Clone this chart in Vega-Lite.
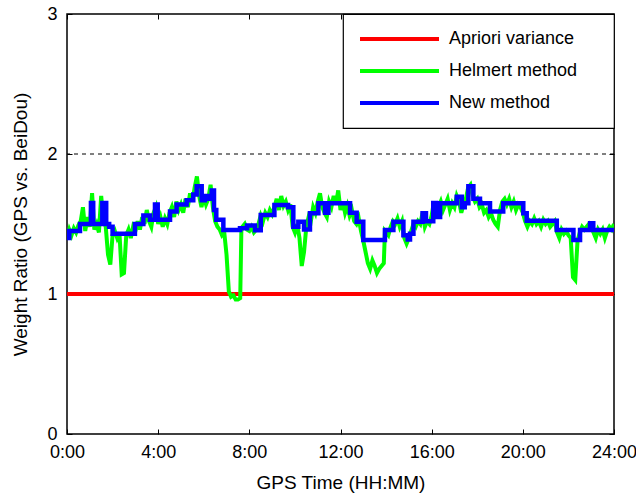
{
  "$schema": "https://vega.github.io/schema/vega-lite/v6.json",
  "width": 547,
  "height": 420,
  "autosize": "none",
  "padding": {"left": 67, "top": 14, "right": 22, "bottom": 64},
  "background": "white",
  "config": {
    "font": "Liberation Sans",
    "view": {"stroke": "black", "strokeWidth": 1.5},
    "axis": {
      "domain": false,
      "grid": false,
      "ticks": true,
      "tickColor": "black",
      "tickSize": -5,
      "labelFont": "Liberation Sans",
      "labelFontSize": 18,
      "labelColor": "black",
      "titleFont": "Liberation Sans",
      "titleFontSize": 19,
      "titleFontWeight": "normal",
      "titleColor": "black"
    },
    "legend": {
      "orient": "top-right",
      "offset": 0,
      "strokeColor": "black",
      "strokeWidth": 1.2,
      "fillColor": "white",
      "padding": 15,
      "symbolType": "stroke",
      "symbolSize": 6241,
      "symbolStrokeWidth": 4,
      "symbolOffset": 0,
      "clipHeight": 20,
      "labelFont": "Liberation Sans",
      "labelFontSize": 18,
      "labelColor": "black",
      "labelOffset": 8,
      "rowPadding": 12,
      "titleOrient": "right",
      "titlePadding": 22,
      "titleFontSize": 10
    }
  },
  "resolve": {"axis": {"x": "independent", "y": "independent"}},
  "datasets": {
    "blue": [
      {"h": 0.0, "v": 1.40}, {"h": 0.1, "v": 1.45}, {"h": 0.57, "v": 1.50}, {"h": 1.05, "v": 1.65}, {"h": 1.15, "v": 1.50},
      {"h": 1.55, "v": 1.65}, {"h": 1.72, "v": 1.50}, {"h": 1.85, "v": 1.48}, {"h": 2.0, "v": 1.43}, {"h": 2.98, "v": 1.50},
      {"h": 3.35, "v": 1.56}, {"h": 3.64, "v": 1.53}, {"h": 3.86, "v": 1.64}, {"h": 3.98, "v": 1.53}, {"h": 4.52, "v": 1.59},
      {"h": 4.81, "v": 1.64}, {"h": 5.25, "v": 1.67}, {"h": 5.54, "v": 1.71}, {"h": 5.69, "v": 1.77}, {"h": 5.91, "v": 1.67},
      {"h": 6.05, "v": 1.70}, {"h": 6.2, "v": 1.68}, {"h": 6.35, "v": 1.74}, {"h": 6.45, "v": 1.60}, {"h": 6.55, "v": 1.53},
      {"h": 6.86, "v": 1.457}, {"h": 7.59, "v": 1.47}, {"h": 7.9, "v": 1.49}, {"h": 8.25, "v": 1.455}, {"h": 8.5, "v": 1.564},
      {"h": 9.1, "v": 1.636}, {"h": 9.7, "v": 1.62}, {"h": 9.93, "v": 1.48}, {"h": 10.15, "v": 1.516}, {"h": 10.4, "v": 1.46},
      {"h": 10.66, "v": 1.576}, {"h": 11.03, "v": 1.648}, {"h": 11.32, "v": 1.58}, {"h": 11.47, "v": 1.648}, {"h": 12.42, "v": 1.58},
      {"h": 12.71, "v": 1.516}, {"h": 13.0, "v": 1.386}, {"h": 13.95, "v": 1.457}, {"h": 14.32, "v": 1.516}, {"h": 14.76, "v": 1.42},
      {"h": 14.95, "v": 1.39}, {"h": 15.05, "v": 1.43}, {"h": 15.2, "v": 1.516}, {"h": 15.6, "v": 1.576}, {"h": 15.75, "v": 1.52},
      {"h": 16.07, "v": 1.65}, {"h": 16.2, "v": 1.55}, {"h": 16.37, "v": 1.648}, {"h": 17.1, "v": 1.695}, {"h": 17.32, "v": 1.62},
      {"h": 17.45, "v": 1.648}, {"h": 17.61, "v": 1.77}, {"h": 17.83, "v": 1.68}, {"h": 18.12, "v": 1.648}, {"h": 18.56, "v": 1.59},
      {"h": 19.14, "v": 1.648}, {"h": 20.02, "v": 1.576}, {"h": 20.17, "v": 1.524}, {"h": 21.49, "v": 1.457}, {"h": 22.22, "v": 1.386},
      {"h": 22.51, "v": 1.457}, {"h": 22.95, "v": 1.505}, {"h": 23.09, "v": 1.457}, {"h": 24.0, "v": 1.457}
    ],
    "green": [
      {"h": 0.0, "v": 1.40}, {"h": 0.1, "v": 1.46}, {"h": 0.2, "v": 1.42}, {"h": 0.3, "v": 1.47}, {"h": 0.4, "v": 1.44},
      {"h": 0.5, "v": 1.49}, {"h": 0.6, "v": 1.52}, {"h": 0.7, "v": 1.62}, {"h": 0.8, "v": 1.45}, {"h": 0.9, "v": 1.55},
      {"h": 1.0, "v": 1.48}, {"h": 1.1, "v": 1.72}, {"h": 1.2, "v": 1.46}, {"h": 1.3, "v": 1.50}, {"h": 1.4, "v": 1.44},
      {"h": 1.5, "v": 1.70}, {"h": 1.6, "v": 1.52}, {"h": 1.7, "v": 1.48}, {"h": 1.8, "v": 1.28}, {"h": 1.9, "v": 1.21},
      {"h": 2.0, "v": 1.42}, {"h": 2.1, "v": 1.45}, {"h": 2.2, "v": 1.40}, {"h": 2.3, "v": 1.44}, {"h": 2.4, "v": 1.14},
      {"h": 2.5, "v": 1.15}, {"h": 2.6, "v": 1.42}, {"h": 2.7, "v": 1.46}, {"h": 2.8, "v": 1.40}, {"h": 2.9, "v": 1.48},
      {"h": 3.0, "v": 1.45}, {"h": 3.1, "v": 1.52}, {"h": 3.2, "v": 1.46}, {"h": 3.3, "v": 1.55}, {"h": 3.4, "v": 1.50},
      {"h": 3.5, "v": 1.60}, {"h": 3.6, "v": 1.52}, {"h": 3.7, "v": 1.48}, {"h": 3.8, "v": 1.58}, {"h": 3.9, "v": 1.62},
      {"h": 4.0, "v": 1.50}, {"h": 4.1, "v": 1.55}, {"h": 4.2, "v": 1.48}, {"h": 4.3, "v": 1.54}, {"h": 4.4, "v": 1.50},
      {"h": 4.5, "v": 1.58}, {"h": 4.6, "v": 1.62}, {"h": 4.7, "v": 1.55}, {"h": 4.8, "v": 1.66}, {"h": 4.9, "v": 1.60},
      {"h": 5.0, "v": 1.64}, {"h": 5.1, "v": 1.58}, {"h": 5.2, "v": 1.68}, {"h": 5.3, "v": 1.62}, {"h": 5.4, "v": 1.72},
      {"h": 5.5, "v": 1.66}, {"h": 5.6, "v": 1.76}, {"h": 5.7, "v": 1.84}, {"h": 5.8, "v": 1.70}, {"h": 5.9, "v": 1.62},
      {"h": 6.0, "v": 1.70}, {"h": 6.1, "v": 1.64}, {"h": 6.2, "v": 1.68}, {"h": 6.3, "v": 1.78}, {"h": 6.4, "v": 1.62},
      {"h": 6.5, "v": 1.52}, {"h": 6.6, "v": 1.48}, {"h": 6.7, "v": 1.46}, {"h": 6.8, "v": 1.42}, {"h": 6.9, "v": 1.44},
      {"h": 7.0, "v": 1.28}, {"h": 7.1, "v": 1.02}, {"h": 7.2, "v": 0.98}, {"h": 7.3, "v": 0.99}, {"h": 7.4, "v": 0.96},
      {"h": 7.5, "v": 0.96}, {"h": 7.6, "v": 0.97}, {"h": 7.65, "v": 1.45}, {"h": 7.7, "v": 1.48}, {"h": 7.8, "v": 1.50},
      {"h": 7.9, "v": 1.46}, {"h": 8.0, "v": 1.45}, {"h": 8.1, "v": 1.48}, {"h": 8.2, "v": 1.44}, {"h": 8.3, "v": 1.46},
      {"h": 8.4, "v": 1.50}, {"h": 8.5, "v": 1.56}, {"h": 8.6, "v": 1.52}, {"h": 8.7, "v": 1.58}, {"h": 8.8, "v": 1.55},
      {"h": 8.9, "v": 1.60}, {"h": 9.0, "v": 1.57}, {"h": 9.1, "v": 1.62}, {"h": 9.2, "v": 1.68}, {"h": 9.3, "v": 1.60},
      {"h": 9.4, "v": 1.70}, {"h": 9.5, "v": 1.63}, {"h": 9.6, "v": 1.66}, {"h": 9.7, "v": 1.60}, {"h": 9.8, "v": 1.64},
      {"h": 9.9, "v": 1.48}, {"h": 10.0, "v": 1.44}, {"h": 10.1, "v": 1.50}, {"h": 10.2, "v": 1.40}, {"h": 10.3, "v": 1.20},
      {"h": 10.4, "v": 1.30}, {"h": 10.5, "v": 1.48}, {"h": 10.6, "v": 1.55}, {"h": 10.7, "v": 1.52}, {"h": 10.8, "v": 1.62},
      {"h": 10.9, "v": 1.58}, {"h": 11.0, "v": 1.66}, {"h": 11.1, "v": 1.72}, {"h": 11.2, "v": 1.62}, {"h": 11.3, "v": 1.58},
      {"h": 11.4, "v": 1.55}, {"h": 11.5, "v": 1.66}, {"h": 11.6, "v": 1.62}, {"h": 11.7, "v": 1.70}, {"h": 11.8, "v": 1.64},
      {"h": 11.9, "v": 1.74}, {"h": 12.0, "v": 1.60}, {"h": 12.1, "v": 1.66}, {"h": 12.2, "v": 1.58}, {"h": 12.3, "v": 1.63},
      {"h": 12.4, "v": 1.56}, {"h": 12.5, "v": 1.60}, {"h": 12.6, "v": 1.52}, {"h": 12.7, "v": 1.50}, {"h": 12.8, "v": 1.54},
      {"h": 12.9, "v": 1.45}, {"h": 13.0, "v": 1.38}, {"h": 13.1, "v": 1.30}, {"h": 13.2, "v": 1.22}, {"h": 13.3, "v": 1.18},
      {"h": 13.4, "v": 1.24}, {"h": 13.5, "v": 1.20}, {"h": 13.6, "v": 1.15}, {"h": 13.7, "v": 1.18}, {"h": 13.8, "v": 1.20},
      {"h": 13.9, "v": 1.22}, {"h": 13.95, "v": 1.45}, {"h": 14.0, "v": 1.44}, {"h": 14.1, "v": 1.42}, {"h": 14.2, "v": 1.48},
      {"h": 14.3, "v": 1.52}, {"h": 14.4, "v": 1.50}, {"h": 14.5, "v": 1.54}, {"h": 14.6, "v": 1.48}, {"h": 14.7, "v": 1.52},
      {"h": 14.8, "v": 1.40}, {"h": 14.9, "v": 1.36}, {"h": 15.0, "v": 1.40}, {"h": 15.1, "v": 1.45}, {"h": 15.2, "v": 1.50},
      {"h": 15.3, "v": 1.48}, {"h": 15.4, "v": 1.52}, {"h": 15.5, "v": 1.50}, {"h": 15.6, "v": 1.58}, {"h": 15.7, "v": 1.48},
      {"h": 15.8, "v": 1.52}, {"h": 15.9, "v": 1.50}, {"h": 16.0, "v": 1.56}, {"h": 16.1, "v": 1.66}, {"h": 16.2, "v": 1.54},
      {"h": 16.3, "v": 1.62}, {"h": 16.4, "v": 1.66}, {"h": 16.5, "v": 1.60}, {"h": 16.6, "v": 1.64}, {"h": 16.7, "v": 1.68},
      {"h": 16.8, "v": 1.60}, {"h": 16.9, "v": 1.65}, {"h": 17.0, "v": 1.62}, {"h": 17.1, "v": 1.70}, {"h": 17.2, "v": 1.66},
      {"h": 17.3, "v": 1.58}, {"h": 17.4, "v": 1.64}, {"h": 17.5, "v": 1.68}, {"h": 17.6, "v": 1.76}, {"h": 17.7, "v": 1.78},
      {"h": 17.8, "v": 1.70}, {"h": 17.9, "v": 1.66}, {"h": 18.0, "v": 1.68}, {"h": 18.1, "v": 1.62}, {"h": 18.2, "v": 1.64},
      {"h": 18.3, "v": 1.58}, {"h": 18.4, "v": 1.60}, {"h": 18.5, "v": 1.55}, {"h": 18.6, "v": 1.58}, {"h": 18.7, "v": 1.53},
      {"h": 18.8, "v": 1.50}, {"h": 18.9, "v": 1.48}, {"h": 19.0, "v": 1.60}, {"h": 19.1, "v": 1.66}, {"h": 19.2, "v": 1.68},
      {"h": 19.3, "v": 1.64}, {"h": 19.4, "v": 1.68}, {"h": 19.5, "v": 1.62}, {"h": 19.6, "v": 1.66}, {"h": 19.7, "v": 1.60},
      {"h": 19.8, "v": 1.64}, {"h": 19.9, "v": 1.62}, {"h": 20.0, "v": 1.58}, {"h": 20.1, "v": 1.52}, {"h": 20.2, "v": 1.48},
      {"h": 20.3, "v": 1.52}, {"h": 20.4, "v": 1.50}, {"h": 20.5, "v": 1.54}, {"h": 20.6, "v": 1.50}, {"h": 20.7, "v": 1.52},
      {"h": 20.8, "v": 1.48}, {"h": 20.9, "v": 1.53}, {"h": 21.0, "v": 1.50}, {"h": 21.1, "v": 1.52}, {"h": 21.2, "v": 1.48},
      {"h": 21.3, "v": 1.50}, {"h": 21.4, "v": 1.52}, {"h": 21.5, "v": 1.44}, {"h": 21.6, "v": 1.40}, {"h": 21.7, "v": 1.46},
      {"h": 21.8, "v": 1.43}, {"h": 21.9, "v": 1.45}, {"h": 22.0, "v": 1.42}, {"h": 22.1, "v": 1.40}, {"h": 22.2, "v": 1.12},
      {"h": 22.3, "v": 1.10}, {"h": 22.4, "v": 1.38}, {"h": 22.5, "v": 1.44}, {"h": 22.6, "v": 1.48}, {"h": 22.7, "v": 1.46},
      {"h": 22.8, "v": 1.48}, {"h": 22.9, "v": 1.50}, {"h": 23.0, "v": 1.47}, {"h": 23.1, "v": 1.44}, {"h": 23.2, "v": 1.40},
      {"h": 23.3, "v": 1.46}, {"h": 23.4, "v": 1.43}, {"h": 23.5, "v": 1.46}, {"h": 23.6, "v": 1.40}, {"h": 23.7, "v": 1.45},
      {"h": 23.8, "v": 1.48}, {"h": 23.9, "v": 1.46}, {"h": 24.0, "v": 1.50}
    ],
    "red": [
      {"h": 0, "v": 1}, {"h": 24, "v": 1}
    ],
    "ref": [
      {"v": 2}
    ]
  },
  "layer": [
    {
      "data": {"name": "ref"},
      "mark": {"type": "rule", "color": "black", "strokeWidth": 1, "strokeDash": [4, 4]},
      "encoding": {"y": {"field": "v", "type": "quantitative", "scale": {"domain": [0, 3], "nice": false}, "axis": null}}
    },
    {
      "data": {"name": "red"},
      "transform": [{"calculate": "'Apriori variance'", "as": "series"}],
      "mark": {"type": "line", "strokeWidth": 4, "clip": true},
      "encoding": {
        "x": {"field": "h", "type": "quantitative", "scale": {"domain": [0, 24], "nice": false},
              "axis": {"values": [0, 4, 8, 12, 16, 20, 24], "labelExpr": "datum.value + ':00'", "title": "GPS Time (HH:MM)", "labelPadding": 14, "titlePadding": 12, "labelFlush": false}},
        "y": {"field": "v", "type": "quantitative", "scale": {"domain": [0, 3], "nice": false},
              "axis": {"values": [0, 1, 2, 3], "title": "Weight Ratio (GPS vs. BeiDou)", "labelPadding": 15, "titlePadding": 16}},
        "color": {"field": "series", "type": "nominal",
                  "scale": {"domain": ["Apriori variance", "Helmert method", "New method"], "range": ["#ff0000", "#00ff00", "#0000ff"]},
                  "legend": {"title": "\u00a0"}}
      }
    },
    {
      "data": {"name": "green"},
      "transform": [{"calculate": "'Helmert method'", "as": "series"}],
      "mark": {"type": "line", "strokeWidth": 4, "clip": true},
      "encoding": {
        "x": {"field": "h", "type": "quantitative", "axis": {"orient": "top", "values": [0, 4, 8, 12, 16, 20, 24], "labels": false, "title": null}},
        "y": {"field": "v", "type": "quantitative", "axis": {"orient": "right", "values": [0, 1, 2, 3], "labels": false, "title": null}},
        "color": {"field": "series", "type": "nominal"}
      }
    },
    {
      "data": {"name": "blue"},
      "transform": [{"calculate": "'New method'", "as": "series"}],
      "mark": {"type": "line", "strokeWidth": 4.5, "interpolate": "step-after", "clip": true},
      "encoding": {
        "x": {"field": "h", "type": "quantitative", "axis": null},
        "y": {"field": "v", "type": "quantitative", "axis": null},
        "color": {"field": "series", "type": "nominal"}
      }
    }
  ]
}
